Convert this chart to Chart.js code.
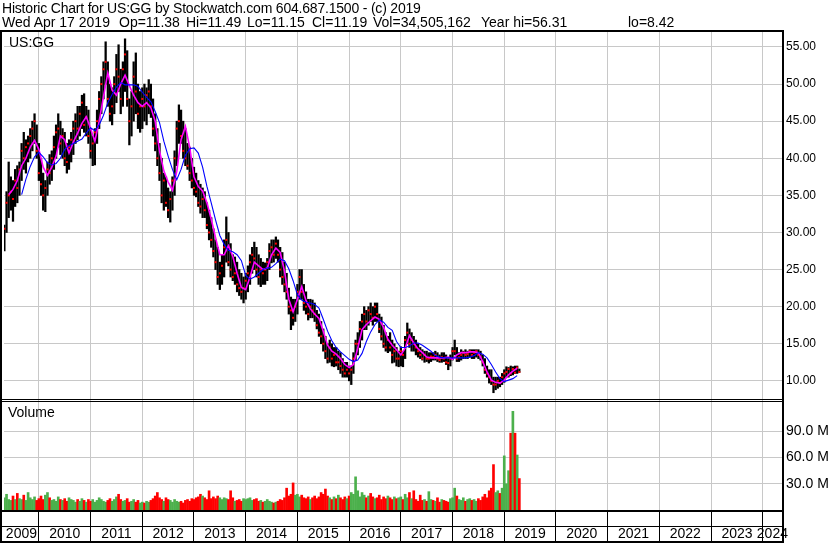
<!DOCTYPE html>
<html>
<head>
<meta charset="utf-8">
<title>US:GG historic chart</title>
<script src="https://cdn.jsdelivr.net/npm/chart.js@4.4.1/dist/chart.umd.min.js"></script>
<style>
  body { margin: 0; background: #fff; }
  #wrap { position: relative; width: 830px; height: 543px; overflow: hidden; font-family: 'Liberation Sans', Arial, sans-serif; }
  #chart { position: absolute; left: 0; top: 0; }
  .txt { position: absolute; white-space: pre; color: #000; font-size: 14px; line-height: 14px; }
</style>
</head>
<body>
<div id="wrap">
  <canvas id="chart" width="830" height="543"></canvas>
  <div class="txt" style="left:2px;top:1px;letter-spacing:-0.2px">Historic Chart for US:GG by Stockwatch.com 604.687.1500 - (c) 2019</div>
  <div class="txt" style="left:2px;top:15px">Wed Apr 17 2019</div>
  <div class="txt" style="left:119px;top:15px">Op=11.38</div>
  <div class="txt" style="left:186px;top:15px">Hi=11.49</div>
  <div class="txt" style="left:247px;top:15px">Lo=11.15</div>
  <div class="txt" style="left:312px;top:15px">Cl=11.19</div>
  <div class="txt" style="left:373px;top:15px">Vol=34,505,162</div>
  <div class="txt" style="left:481px;top:15px">Year hi=56.31</div>
  <div class="txt" style="left:628px;top:15px">lo=8.42</div>
  <div class="txt" style="left:9px;top:35px">US:GG</div>
  <div class="txt" style="left:8px;top:405px">Volume</div>
</div>
<script>
// two bars a month, first half of May 2009 to second half of Apr 2019
const firstPeriod = 2009 + 4 / 12;
const periodsPerYear = 24;

const lows = [
  27.5, 30, 32, 33, 31.5, 33.5, 34, 35, 37, 38.5, 38, 39.5, 40, 41, 42, 40,
  37, 35, 33, 32.8, 35, 36.5, 37, 38.5, 40, 41.5, 40.5, 40, 39, 38, 38.5, 39.5, 40.5, 42, 42.5, 43, 44, 43.5, 43, 42,
  40, 39, 39.1, 42, 44, 46, 48, 50, 47, 45, 44.5, 46, 47.5, 49, 46, 47, 49, 47, 41.8, 43, 45, 46, 44, 43.5,
  44, 45, 44.5, 46, 45.5, 43, 41, 39, 37, 34, 33, 33.5, 32, 31.4, 33, 35, 39, 42, 42, 40, 39, 38.5, 37, 36,
  35, 34.8, 33.5, 32.6, 32, 32, 30.5, 29, 28, 26.7, 25, 23, 22.3, 23, 24, 26, 25.5, 24, 23.5, 23, 22, 21.5, 21, 20.5,
  21, 22, 23, 24.5, 25, 24, 23, 22.7, 23, 23, 23.5, 25, 25.9, 26, 26.5, 26, 24, 23, 22, 21, 19, 16.9, 17.5, 18,
  19, 21, 21, 19.5, 19, 18.2, 18.5, 18.5, 18, 17, 16, 15, 14, 13, 12.4, 12.5, 12, 11.9, 12, 11.5, 11, 10.5, 10.5, 10.5,
  10, 9.5, 11, 12.8, 13.5, 14.5, 15.5, 16.9, 16.9, 17.5, 18, 17.5, 18, 18, 16.5, 15.5, 14.5, 14, 13.8, 14, 12.4, 12.5, 12, 11.9,
  12, 11.9, 13, 15, 14.5, 14, 14, 13.5, 13.2, 13, 12.8, 12.5, 12.6, 12.4, 12.6, 12.8, 12.8, 12.6, 12.5, 12.5, 12.6, 12.2, 11.5, 12,
  12.8, 13.5, 12.6, 12.6, 12.8, 13, 13, 13, 13.2, 13, 13, 13.2, 13, 12.8, 12, 11, 10.5, 9.7, 9.5, 8.4, 8.8, 9, 9.2, 9.5,
  9.8, 10.5, 10.5, 10.7, 10.8, 11, 11, 11.15
];
const highs = [
  31, 35.5, 39.5, 37.5, 37, 38.5, 39, 39.5, 42, 43.5, 42.5, 43, 44, 45, 46, 44.5,
  42, 40, 38, 37, 39.5, 40.5, 41, 43, 44.5, 46, 45, 44, 43.5, 42, 42.5, 43.5, 45, 46, 47, 47, 48.5, 48.7, 47, 46.5,
  44, 43, 44, 46.5, 49, 51, 53, 55.7, 53, 50, 49.5, 51, 54, 55.3, 52, 53, 56.1, 54.5, 48, 49, 53, 54.2, 50, 49,
  49.5, 50, 49.5, 50.6, 50, 48, 46, 44, 42, 40, 38, 37.5, 36, 35.5, 37.5, 41, 45, 47.2, 46.5, 45, 44, 42, 41.5, 40,
  38.8, 38, 37, 36.5, 36, 35.5, 34, 33, 32, 30.5, 29, 28, 26, 27, 29, 32.1, 30, 28.5, 27, 26.7, 26, 25, 24.5, 24,
  24.5, 25.5, 27, 28, 28.7, 28, 27, 26.5, 26, 25.9, 26.5, 28.5, 29, 29, 29.4, 29, 28, 27.3, 26, 24.5, 22.5, 21.3, 21, 21,
  23, 25, 25, 23, 22, 21, 21, 20.9, 20.5, 19.5, 19, 18, 17, 16, 15, 15.5, 15, 14.5, 14.5, 14, 13.8, 13, 12.5, 12.5,
  12, 12, 13.8, 15.5, 16.5, 18, 19, 20, 19.5, 20, 20.5, 20, 20.5, 20.5, 19, 18.6, 17.5, 16.5, 16, 16.5, 15.5, 15, 14.5, 14,
  14.6, 14, 16, 17.8, 17, 16.5, 16, 15.5, 15, 14.5, 14.2, 14, 14, 13.8, 13.8, 13.8, 14, 13.8, 13.5, 13.8, 13.8, 13.5, 13, 13.5,
  14.5, 15.5, 14.5, 13.8, 14.2, 14, 14.2, 14, 14.2, 14.2, 14.2, 14.2, 14.2, 14, 13.5, 13, 12, 11.5, 11.5, 10.5, 10.5, 10.5, 10.5, 11,
  11.5, 11.9, 11.8, 12, 11.9, 12, 12, 11.6
];
const closes = [
  30.5, 34, 35, 35.5, 34.5, 37, 36, 38.5, 41, 40, 41.5, 42, 43, 44, 45, 41,
  38, 36.5, 35, 36, 38.5, 38, 40, 41.5, 43.5, 44, 42, 43, 40, 39.5, 41.5, 42.5, 44, 45, 44, 46, 47.5, 44.5, 45.5, 43,
  41, 42, 43.5, 45, 48, 50, 52, 53, 48, 46, 47, 50, 52, 51, 48, 52, 54, 48, 45, 47, 51, 49, 46, 47,
  48, 47, 48.5, 49, 47, 44, 42, 40, 38, 35, 37, 34, 33, 34.5, 37, 40, 44, 45, 43, 41, 40, 39, 38, 37,
  36, 35.5, 34, 33.5, 34.5, 33, 31, 30, 29, 27.5, 26, 24, 24.5, 25.5, 28, 29, 26, 25, 24, 24.5, 23, 22.5, 22, 22.5,
  23.5, 24.5, 26, 27, 26.5, 25, 24, 25, 24.5, 25, 26, 27.5, 28, 27, 28.5, 27, 25, 24, 23, 22, 20, 19.5, 18.5, 20,
  22, 24, 22, 20.5, 20, 19, 20, 19.5, 19, 17.5, 16.5, 16, 15, 14, 13, 14.5, 13, 13.5, 12.5, 12.5, 12, 11.5, 11, 11.5,
  11, 11.5, 13, 15, 15, 17, 18, 19, 18, 19.5, 19, 18.5, 20, 19, 17, 16, 15, 14.5, 15.5, 14.5, 13.5, 14, 13, 13,
  14, 13.5, 15.5, 16.5, 15, 15.5, 15, 14.5, 14, 13.5, 13, 13.5, 13, 13, 13.3, 13.2, 13.5, 13, 12.8, 13.2, 13, 12.5, 12.4, 13,
  14, 14, 13, 13.2, 13.5, 13.8, 13.5, 13.6, 14, 13.5, 13.8, 14, 13.5, 13.2, 12.5, 11.5, 11, 10.5, 10, 9.5, 9.5, 10, 9.7, 10.5,
  11, 11.2, 11.6, 11.0, 11.6, 11.1, 11.8, 11.19
];
// millions of shares
const volumes = [
  14, 18, 12, 11, 16, 12, 19, 13, 12, 17, 11, 20, 14, 12, 15, 11,
  13, 16, 12, 17, 20, 14, 11, 12, 10, 15, 12, 11, 13, 10, 14, 12, 11, 9, 12, 10, 13, 11, 9, 12,
  10, 12, 9, 11, 14, 12, 10, 9, 11, 13, 10, 12, 15, 18, 12, 10, 11, 13, 9, 10, 12, 9, 11, 8,
  9, 8, 10, 9, 11, 13, 16, 20, 14, 12, 10, 14, 12, 11, 9, 12, 10, 9, 10, 8, 11, 12, 10, 13,
  12, 14, 15, 18, 16, 14, 12, 22, 13, 15, 13, 16, 14, 12, 14, 13, 12, 22, 14, 10, 11, 12, 10, 13,
  12, 13, 14, 11, 12, 13, 10, 11, 9, 10, 12, 10, 9, 8, 9, 10, 12, 11, 14, 25, 16, 18, 31, 17,
  18, 15, 17, 14, 13, 15, 12, 14, 16, 13, 15, 20, 18, 24, 16, 14, 12, 15, 13, 17, 14, 12, 15, 13,
  16, 20, 18, 38, 22, 15, 20, 17, 14, 16, 19, 15, 13, 14, 17, 12, 15, 13, 16, 14, 12, 15, 13, 14,
  15, 12, 18, 14, 20, 13, 22, 12, 10, 17, 11, 12, 10, 21, 12, 11, 10, 14, 9, 12, 11, 10, 9, 13,
  14, 25, 16, 12, 11, 14, 10, 12, 13, 11, 12, 10, 13, 11, 15, 18, 14, 22, 25, 52, 20, 22, 19, 25,
  62, 30, 45, 88, 113, 88, 63, 36
];

// moving averages, read once a month from the same start
const maFast = [
  null, 35.1, 35.8, 37, 39, 40, 41.5, 42.4, 41.2, 38.8,
  37.7, 38.8, 40.3, 43.0, 42.5, 40.7, 42.2, 43.4, 44.7, 45.6,
  44, 42.3, 45, 48.3, 51.5, 49.2, 48.5, 50, 51.2, 49.8,
  48.5, 47.5, 47, 47.5, 46.8, 45, 41, 38.3, 36.8, 35.7,
  38.2, 42.5, 44.3, 41.5, 37.5, 36.2, 35.6, 34, 31.8, 29.3,
  27, 27, 28.2, 26.8, 24.5, 22.6, 22.3, 24, 26, 25.5,
  25, 25.2, 27, 27.9, 27.3, 24.8, 21, 19.3, 21, 22.7,
  20.8, 19.7, 19, 18.4, 16.7, 14.8, 14, 13.6, 13, 12.2,
  11.8, 12.2, 14.4, 16.9, 17.6, 18.1, 18.6, 18.3, 17.2, 15.6,
  14.8, 14.2, 13.5, 14.4, 16.1, 15.1, 14.3, 13.8, 13.2, 13.1,
  13.1, 13.1, 13.1, 13.2, 12.9, 13.5, 13.8, 13.8, 13.9, 13.9,
  13.8, 12.6, 11.2, 10.1, 9.8, 9.7, 10.1, 10.8, 11.3, 11.7
];
const maSlow = [
  null, null, null, null, 35.1, 37.2, 38.9, 40.2, 40.8, 40.2,
  39.4, 39.1, 39.3, 40, 41.2, 41.7, 42, 42.3, 42.6, 43.4,
  44.1, 43.7, 44.5, 45.8, 47.5, 48.6, 49.6, 50.2, 49.9, 49.9,
  49.9, 49.7, 48.9, 48.2, 47.6, 46.3, 44.8, 42.3, 40.3, 38.5,
  37.1, 38.5, 40.4, 41.3, 41.4, 40.7, 38.8, 36.2, 34, 31.7,
  29.6, 28.4, 27.6, 27.4, 27, 26.2, 24.2, 23.7, 24, 24.5,
  25, 25.2, 25.3, 25.8, 26.4, 26.2, 25.1, 23.5, 21.6, 20.9,
  20.6, 20.5, 20.3, 19.8, 18.3, 16.7, 15.4, 14.5, 13.9, 13.4,
  12.9, 12.6, 12.8, 13.7, 15.3, 16.6, 17.6, 18.2, 17.9, 17.2,
  16.8, 15.3, 14.5, 14.5, 14.7, 15.1, 15.1, 14.8, 14.4, 14,
  13.4, 13.2, 13.1, 13.1, 13.1, 13.1, 13.1, 13.1, 13.2, 13.4,
  13.8, 13.6, 13.1, 12.2, 11.2, 10.3, 9.9, 10.1, 10.3, 10.7
];

const priceTicks = [10, 12.5, 15, 17.5, 20, 22.5, 25, 27.5, 30, 32.5, 35, 37.5, 40, 42.5, 45, 47.5, 50, 52.5, 55];
const volumeTicks = [30, 60, 90];
const years = [2009, 2010, 2011, 2012, 2013, 2014, 2015, 2016, 2017, 2018, 2019, 2020, 2021, 2022, 2023, 2024];

const xMin = 2009.326, xMax = 2024.371;
const font = "'Liberation Sans', Arial, sans-serif";
const gridGrey = '#c8c8c8';
const upGreen = '#4cb04c';
const downRed = '#ff0000';

const when = i => firstPeriod + i / periodsPerYear;
const month = k => firstPeriod + k / 12;

// gridlines on year boundaries, labels centred in the visible part of each year
const xTicks = [];
years.forEach(y => {
  if (y > xMin) xTicks.push({ value: y });
  const c = (Math.max(y, xMin) + Math.min(y + 1, xMax)) / 2;
  xTicks.push({ value: c, name: String(y) });
});

const rangeBars = lows.map((lo, i) => ({ x: when(i), y: [lo, highs[i]] }));
const closeMarks = closes.map((c, i) => ({ x: when(i), y: c }));
const volumeBars = volumes.map((v, i) => ({ x: when(i), y: v }));
const volumeColours = closes.map((c, i) => (i === 0 || c >= closes[i - 1]) ? upGreen : downRed);
const fastLine = maFast.map((v, k) => ({ x: month(k), y: v }));
const slowLine = maSlow.map((v, k) => ({ x: month(k), y: v }));

const isLabelTick = ctx => ctx.tick && ctx.tick.name;

// black frame round the panes and the year strip
const frame = {
  id: 'frame',
  afterDraw(chart) {
    const { ctx, chartArea: a, scales } = chart;
    const right = Math.round(a.right);
    const top = Math.round(a.top);
    const split = Math.round(scales.y.bottom);
    const bottom = Math.round(a.bottom);
    const axisBottom = Math.round(scales.x.bottom);
    ctx.save();
    ctx.fillStyle = '#000';
    ctx.fillRect(0, top - 2, right + 2, 2);
    ctx.fillRect(0, top - 2, 2, axisBottom - top);
    ctx.fillRect(right, top - 2, 2, axisBottom - top);
    ctx.fillRect(0, split - 1, right, 1);
    ctx.fillRect(0, split + 1, right, 1);
    ctx.fillRect(0, bottom, right, 2);
    ctx.fillRect(0, bottom + 16, right, 1);
    ctx.fillRect(0, axisBottom - 2, right + 2, 2);
    ctx.restore();
  }
};

new Chart(document.getElementById('chart'), {
  type: 'bar',
  data: {
    datasets: [
      { type: 'line', data: slowLine, borderColor: '#0000ff', borderWidth: 1.1, pointRadius: 0, yAxisID: 'y', order: 0 },
      { type: 'line', data: fastLine, borderColor: '#ff00ff', borderWidth: 1.6, pointRadius: 0, yAxisID: 'y', order: 1 },
      { type: 'line', data: closeMarks, showLine: false, pointStyle: 'rect', pointRadius: 1.4, pointBackgroundColor: downRed, pointBorderWidth: 0, yAxisID: 'y', order: 2 },
      { type: 'bar', data: rangeBars, backgroundColor: '#000', barThickness: 1.6, grouped: false, yAxisID: 'y', order: 3 },
      { type: 'bar', data: volumeBars, backgroundColor: volumeColours, barThickness: 2, grouped: false, yAxisID: 'yv', order: 4 }
    ]
  },
  options: {
    responsive: false,
    animation: false,
    devicePixelRatio: 1,
    layout: { padding: { top: 32, left: 1, right: 0, bottom: 0 } },
    plugins: { legend: { display: false }, tooltip: { enabled: false }, title: { display: false } },
    scales: {
      x: {
        type: 'linear', min: xMin, max: xMax, offset: false,
        afterBuildTicks: axis => { axis.ticks = xTicks.map(t => ({ ...t })); },
        afterFit: axis => { axis.height = 33; },
        ticks: {
          autoSkip: false, maxRotation: 0, padding: -15, color: '#000',
          font: { family: font, size: 14 },
          callback: (v, i, ticks) => ticks[i].name || ''
        },
        grid: {
          offset: false, lineWidth: 1, tickLength: 31, tickWidth: 1,
          color: ctx => isLabelTick(ctx) ? 'rgba(0,0,0,0)' : gridGrey,
          tickColor: ctx => isLabelTick(ctx) ? 'rgba(0,0,0,0)' : '#000'
        },
        border: { display: false }
      },
      y: {
        position: 'right', stack: 'panes', stackWeight: 368,
        min: 7.42, max: 57.02,
        afterBuildTicks: axis => { axis.ticks = priceTicks.map(v => ({ value: v })); },
        afterFit: axis => { axis.width = 48; },
        ticks: { padding: 4, color: '#000', font: { family: font, size: 12 }, callback: v => v.toFixed(2) },
        grid: { color: gridGrey, drawTicks: false },
        border: { display: false }
      },
      yv: {
        position: 'right', stack: 'panes', stackWeight: 110,
        min: 0, max: 126,
        afterBuildTicks: axis => { axis.ticks = volumeTicks.map(v => ({ value: v })); },
        afterFit: axis => { axis.width = 48; },
        ticks: { padding: 4, color: '#000', font: { family: font, size: 14 }, callback: v => v.toFixed(1) + ' M' },
        grid: { color: gridGrey, drawTicks: false },
        border: { display: false }
      }
    }
  },
  plugins: [frame]
});
</script>
</body>
</html>
